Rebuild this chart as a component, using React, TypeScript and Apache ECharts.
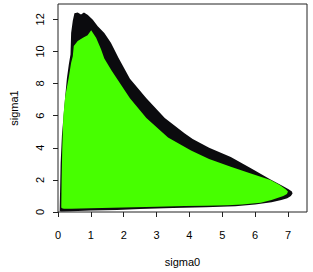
import React, { useEffect, useRef } from "react";
import * as echarts from "echarts";

const xTicks = [0, 1, 2, 3, 4, 5, 6, 7];
const yTicks = [0, 2, 4, 6, 8, 10, 12];
const xMax = 7.58;
const yMax = 12.95;

// outer (black) region boundary
const outerX = [0.05, 0.06, 0.08, 0.12, 0.17, 0.22, 0.27, 0.33, 0.38, 0.4, 0.45, 0.5, 0.6, 0.7, 0.79, 0.91, 1.06, 1.21, 1.41, 1.61, 1.76, 1.84, 2.19, 2.69, 3.25, 3.85, 4.1, 4.6, 5.26, 5.9, 6.47, 6.8, 7.02, 7.12, 7.14, 7.09, 6.98, 6.8, 6.5, 6.0, 5.4, 4.5, 3.5, 2.5, 1.8, 1.0, 0.4, 0.1];
const outerY = [0.05, 1.0, 3.0, 4.8, 6.0, 7.2, 8.3, 9.2, 9.8, 11.15, 11.9, 12.37, 12.42, 12.3, 12.42, 12.27, 11.97, 11.56, 11.15, 10.54, 9.93, 9.6, 8.3, 7.08, 5.86, 4.9, 4.55, 4.0, 3.42, 2.7, 2.02, 1.66, 1.42, 1.28, 1.15, 1.0, 0.86, 0.74, 0.6, 0.46, 0.36, 0.29, 0.25, 0.19, 0.13, 0.09, 0.05, 0.03];

// inner (green) region boundary
const innerX = [0.1, 0.11, 0.13, 0.16, 0.22, 0.32, 0.4, 0.45, 0.48, 0.6, 0.76, 0.9, 1.01, 1.16, 1.31, 1.41, 1.63, 2.19, 2.69, 3.35, 4.05, 4.6, 5.26, 5.87, 6.47, 6.75, 6.93, 7.0, 6.97, 6.86, 6.5, 6.17, 5.6, 5.16, 4.5, 3.85, 3.0, 2.0, 1.0, 0.4, 0.18, 0.12];
const innerY = [0.28, 2.0, 4.0, 5.9, 7.2, 8.3, 9.3, 9.7, 10.34, 10.64, 10.85, 11.0, 11.31, 10.85, 10.13, 9.55, 8.81, 7.08, 5.86, 4.64, 3.83, 3.3, 2.81, 2.4, 2.0, 1.68, 1.42, 1.28, 1.12, 1.0, 0.75, 0.58, 0.47, 0.42, 0.39, 0.37, 0.33, 0.28, 0.24, 0.21, 0.21, 0.24];

const FONT = "'Liberation Sans', Arial, Helvetica, sans-serif";

function polygonSeries(xs: number[], ys: number[], color: string, z: number) {
  const data = xs.map((x, i) => [x, ys[i]]);
  return {
    type: "custom",
    z,
    data,
    encode: { x: 0, y: 1 },
    clip: true,
    renderItem: (params: any, api: any) => {
      if (params.dataIndex !== 0) return null;
      const pts = data.map((p) => api.coord(p));
      return {
        type: "polygon",
        shape: { points: pts },
        style: { fill: color, stroke: "none" },
      };
    },
  };
}

export default function App() {
  const ref = useRef<HTMLDivElement>(null);
  useEffect(() => {
    if (!ref.current) return;
    const chart = echarts.init(ref.current, null, { renderer: "svg" });
    chart.setOption({
      animation: false,
      backgroundColor: "#ffffff",
      grid: {
        left: 56,
        right: 6,
        top: 4,
        bottom: 56,
        show: true,
        borderColor: "#222222",
        borderWidth: 1,
        backgroundColor: "transparent",
      },
      xAxis: {
        type: "value",
        min: 0,
        max: xMax,
        name: "sigma0",
        nameLocation: "middle",
        nameGap: 44,
        nameTextStyle: { fontFamily: FONT, fontSize: 11, color: "#000" },
        axisLine: { show: false },
        splitLine: { show: false },
        axisTick: {
          show: true,
          inside: false,
          length: 5,
          customValues: xTicks,
          lineStyle: { color: "#222" },
        },
        axisLabel: {
          customValues: xTicks,
          margin: 17,
          fontFamily: FONT,
          fontSize: 11,
          color: "#000",
        },
      },
      yAxis: {
        type: "value",
        min: 0,
        max: yMax,
        name: "sigma1",
        nameLocation: "middle",
        nameGap: 39,
        nameTextStyle: { fontFamily: FONT, fontSize: 11, color: "#000" },
        axisLine: { show: false },
        splitLine: { show: false },
        axisTick: {
          show: true,
          inside: false,
          length: 5,
          customValues: yTicks,
          lineStyle: { color: "#222" },
        },
        axisLabel: {
          customValues: yTicks,
          rotate: 90,
          margin: 13,
          fontFamily: FONT,
          fontSize: 11,
          color: "#000",
        },
      },
      series: [
        polygonSeries(outerX, outerY, "#0b0b0e", 2),
        polygonSeries(innerX, innerY, "#47ff00", 3),
      ],
    });
    return () => chart.dispose();
  }, []);
  return (
    <div
      ref={ref}
      style={{ position: "fixed", left: 0, top: 0, width: 313, height: 272 }}
    />
  );
}
